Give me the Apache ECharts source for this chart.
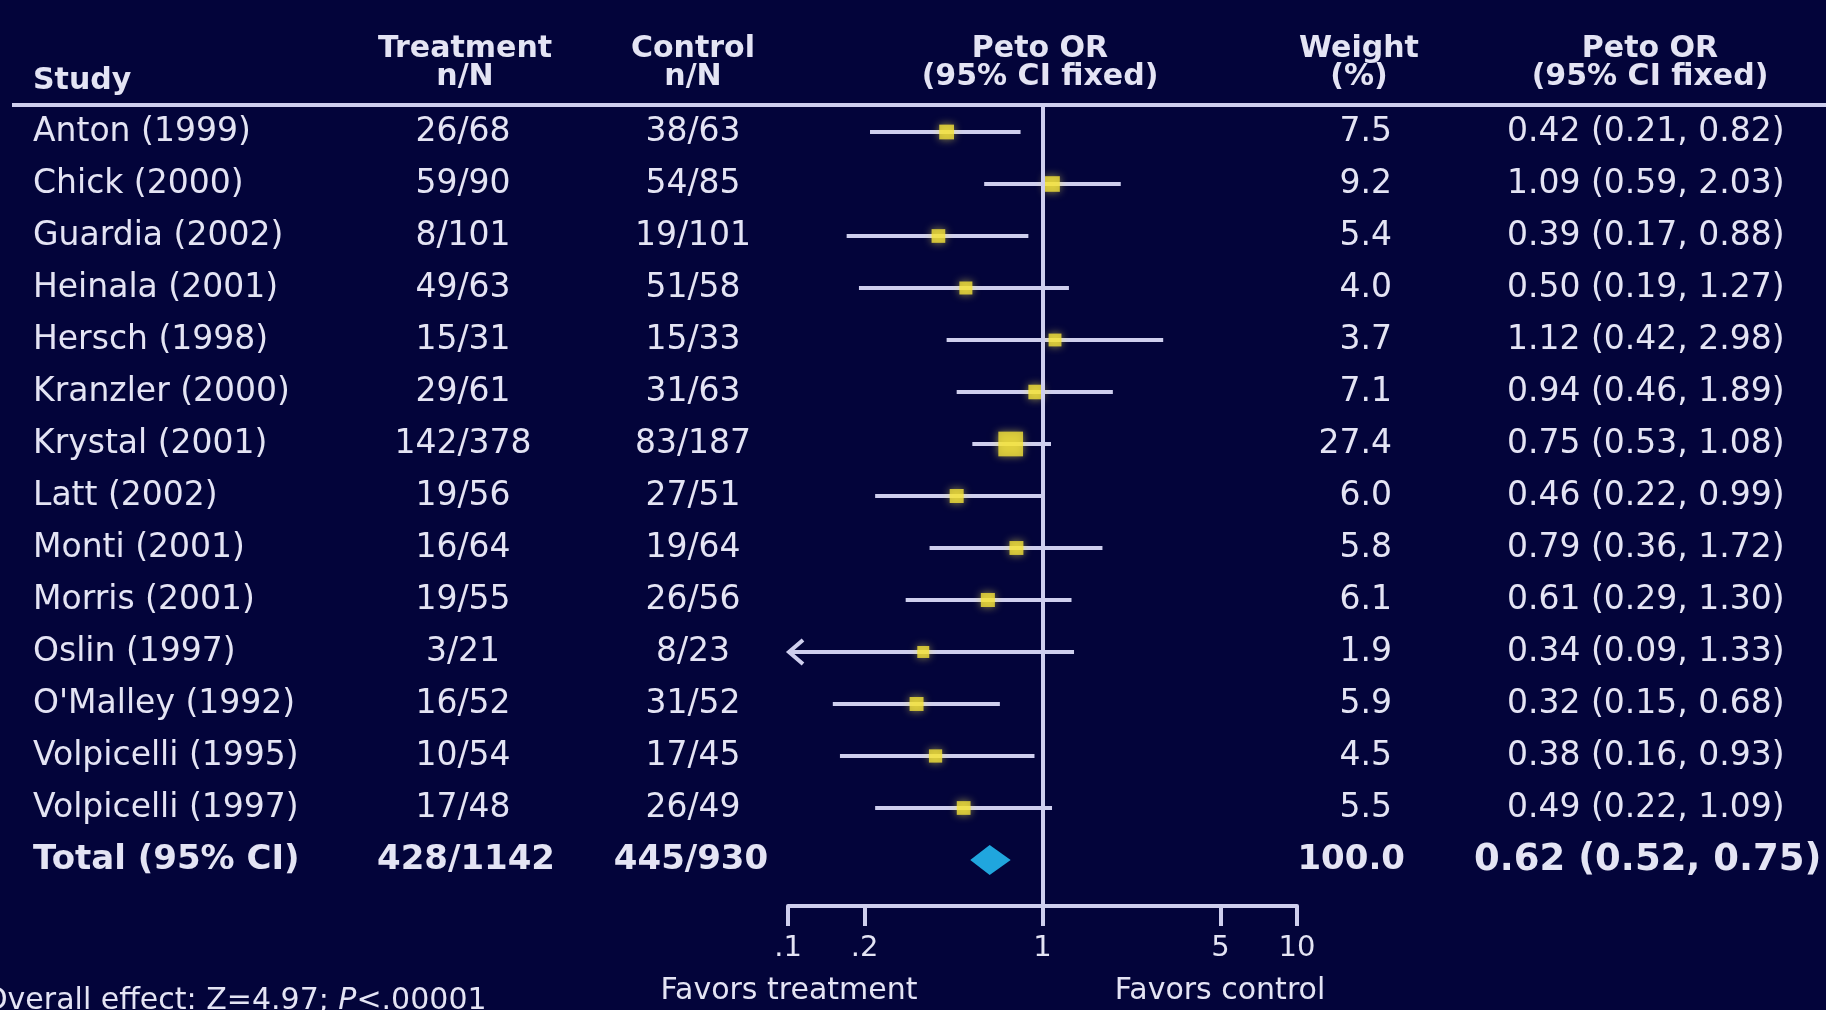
<!DOCTYPE html>
<html>
<head>
<meta charset="utf-8">
<title>Peto OR forest plot</title>
<script src="https://cdn.jsdelivr.net/npm/echarts@6/dist/echarts.min.js"></script>
<style>
html, body { margin: 0; padding: 0; background: #03043a; }
#main { width: 1826px; height: 1010px; }
</style>
</head>
<body>
<div id="main"></div>
<script>
// study rows
var studies = ['Anton (1999)', 'Chick (2000)', 'Guardia (2002)', 'Heinala (2001)', 'Hersch (1998)',
    'Kranzler (2000)', 'Krystal (2001)', 'Latt (2002)', 'Monti (2001)', 'Morris (2001)',
    'Oslin (1997)', "O'Malley (1992)", 'Volpicelli (1995)', 'Volpicelli (1997)'];
var treatment = ['26/68', '59/90', '8/101', '49/63', '15/31', '29/61', '142/378', '19/56',
    '16/64', '19/55', '3/21', '16/52', '10/54', '17/48'];
var control = ['38/63', '54/85', '19/101', '51/58', '15/33', '31/63', '83/187', '27/51',
    '19/64', '26/56', '8/23', '31/52', '17/45', '26/49'];
var weight = [7.5, 9.2, 5.4, 4.0, 3.7, 7.1, 27.4, 6.0, 5.8, 6.1, 1.9, 5.9, 4.5, 5.5];
var orValue = [0.42, 1.09, 0.39, 0.50, 1.12, 0.94, 0.75, 0.46, 0.79, 0.61, 0.34, 0.32, 0.38, 0.49];
var orLow = [0.21, 0.59, 0.17, 0.19, 0.42, 0.46, 0.53, 0.22, 0.36, 0.29, 0.09, 0.15, 0.16, 0.22];
var orHigh = [0.82, 2.03, 0.88, 1.27, 2.98, 1.89, 1.08, 0.99, 1.72, 1.30, 1.33, 0.68, 0.93, 1.09];

// pooled row
var totalLabel = 'Total (95% CI)';
var totalTreatment = '428/1142';
var totalControl = '445/930';
var totalWeight = 100.0;
var totalOr = 0.62;
var totalLow = 0.52;
var totalHigh = 0.75;

// axis ticks
var tickLabels = [0.1, 0.2, 1, 5, 10];

var FONT = '"DejaVu Sans", Verdana, sans-serif';
var TEXT = '#e4e4f4';
var LINE = '#cfcfee';
var AXIS_MIN = -1, AXIS_MAX = 1;
var totalRow = studies.length;

function fmtOr(o, l, h) {
    return o.toFixed(2) + ' (' + l.toFixed(2) + ', ' + h.toFixed(2) + ')';
}

var chartDom = document.getElementById('main');
var myChart = echarts.init(chartDom);
var option;

var ciData = studies.map(function (s, i) { return [orValue[i], i, orLow[i], orHigh[i]]; });
var pointData = studies.map(function (s, i) { return [Math.log10(orValue[i]), i, weight[i]]; });
var tableRows = studies.map(function (s, i) { return [0, i]; });
tableRows.push([0, totalRow]);

option = {
    backgroundColor: '#03043a',
    animation: false,
    grid: {
        left: 788,
        right: 529,
        top: 106,
        bottom: 104,
        outerBoundsMode: 'none'
    },
    xAxis: {
        type: 'value',
        min: AXIS_MIN,
        max: AXIS_MAX,
        position: 'bottom',
        axisLine: { show: true, onZero: false, lineStyle: { color: LINE, width: 4 } },
        axisTick: {
            show: true,
            length: 20,
            customValues: tickLabels.map(Math.log10),
            lineStyle: { color: LINE, width: 4 }
        },
        axisLabel: {
            customValues: tickLabels.map(Math.log10),
            color: TEXT,
            fontFamily: FONT,
            fontSize: 29,
            margin: 28,
            formatter: function (v) {
                var n = Math.round(Math.pow(10, v) * 10) / 10;
                return n < 1 ? String(n).slice(1) : String(n);
            }
        },
        splitLine: { show: false }
    },
    yAxis: {
        type: 'value',
        min: -0.5,
        max: 14.885,
        inverse: true,
        show: false
    },
    graphic: [
        // column headers
        { type: 'text', x: 33, y: 81, style: { text: 'Study', font: 'bold 30px ' + FONT, fill: TEXT, align: 'left', verticalAlign: 'middle' } },
        { type: 'text', x: 465, y: 49, style: { text: 'Treatment', font: 'bold 30px ' + FONT, fill: TEXT, align: 'center', verticalAlign: 'middle' } },
        { type: 'text', x: 465, y: 77, style: { text: 'n/N', font: 'bold 30px ' + FONT, fill: TEXT, align: 'center', verticalAlign: 'middle' } },
        { type: 'text', x: 693, y: 49, style: { text: 'Control', font: 'bold 30px ' + FONT, fill: TEXT, align: 'center', verticalAlign: 'middle' } },
        { type: 'text', x: 693, y: 77, style: { text: 'n/N', font: 'bold 30px ' + FONT, fill: TEXT, align: 'center', verticalAlign: 'middle' } },
        { type: 'text', x: 1040, y: 49, style: { text: 'Peto OR', font: 'bold 30px ' + FONT, fill: TEXT, align: 'center', verticalAlign: 'middle' } },
        { type: 'text', x: 1040, y: 77, style: { text: '(95% CI fixed)', font: 'bold 30px ' + FONT, fill: TEXT, align: 'center', verticalAlign: 'middle' } },
        { type: 'text', x: 1359, y: 49, style: { text: 'Weight', font: 'bold 30px ' + FONT, fill: TEXT, align: 'center', verticalAlign: 'middle' } },
        { type: 'text', x: 1359, y: 77, style: { text: '(%)', font: 'bold 30px ' + FONT, fill: TEXT, align: 'center', verticalAlign: 'middle' } },
        { type: 'text', x: 1650, y: 49, style: { text: 'Peto OR', font: 'bold 30px ' + FONT, fill: TEXT, align: 'center', verticalAlign: 'middle' } },
        { type: 'text', x: 1650, y: 77, style: { text: '(95% CI fixed)', font: 'bold 30px ' + FONT, fill: TEXT, align: 'center', verticalAlign: 'middle' } },
        // rule under headers
        { type: 'line', shape: { x1: 12, y1: 105, x2: 1826, y2: 105 }, style: { stroke: LINE, lineWidth: 4 } },
        // footer
        { type: 'text', x: 789, y: 991, style: { text: 'Favors treatment', font: '30px ' + FONT, fill: TEXT, align: 'center', verticalAlign: 'middle' } },
        { type: 'text', x: 1220, y: 991, style: { text: 'Favors control', font: '30px ' + FONT, fill: TEXT, align: 'center', verticalAlign: 'middle' } },
        {
            type: 'text', x: -16, y: 1001,
            style: {
                text: '{a|Overall effect: Z=4.97; }{b|P}{a|<.00001}',
                fill: TEXT,
                align: 'left',
                verticalAlign: 'middle',
                rich: {
                    a: { font: '30px ' + FONT, fill: TEXT },
                    b: { font: 'italic 30px ' + FONT, fill: TEXT }
                }
            }
        }
    ],
    series: [
        {
            // confidence intervals
            type: 'custom',
            z: 2,
            clip: false,
            data: ciData,
            renderItem: function (params, api) {
                var row = api.value(1);
                var lo = Math.log10(api.value(2));
                var hi = Math.log10(api.value(3));
                var cut = lo < AXIS_MIN;
                var p1 = api.coord([Math.max(lo, AXIS_MIN), row]);
                var p2 = api.coord([Math.min(hi, AXIS_MAX), row]);
                var kids = [{
                    type: 'line',
                    shape: { x1: p1[0], y1: p1[1], x2: p2[0], y2: p2[1] },
                    style: { stroke: LINE, lineWidth: 4 }
                }];
                if (cut) {
                    kids.push({
                        type: 'polyline',
                        shape: { points: [[p1[0] + 15, p1[1] - 12], [p1[0] + 1, p1[1]], [p1[0] + 15, p1[1] + 12]] },
                        style: { stroke: LINE, lineWidth: 4, fill: null }
                    });
                }
                return { type: 'group', children: kids };
            }
        },
        {
            // study estimates
            type: 'scatter',
            z: 4,
            data: pointData,
            symbol: 'rect',
            symbolSize: function (val) { return 11 + val[2] * 0.5; },
            itemStyle: {
                color: '#f4e23a',
                shadowBlur: 8,
                shadowColor: 'rgba(250, 235, 80, 0.7)'
            },
            markLine: {
                silent: true,
                symbol: ['none', 'none'],
                label: { show: false },
                lineStyle: { color: LINE, width: 4, type: 'solid' },
                data: [{ xAxis: 0 }]
            }
        },
        {
            // pooled diamond
            type: 'custom',
            z: 4,
            data: [[totalOr, totalRow, totalLow, totalHigh]],
            renderItem: function (params, api) {
                var row = api.value(1);
                var c = api.coord([Math.log10(api.value(0)), row]);
                var l = api.coord([Math.log10(api.value(2)), row]);
                var r = api.coord([Math.log10(api.value(3)), row]);
                return {
                    type: 'polygon',
                    shape: { points: [[l[0], l[1]], [c[0], c[1] - 15], [r[0], r[1]], [c[0], c[1] + 15]] },
                    style: { fill: '#20a6de' }
                };
            }
        },
        {
            // table text
            type: 'custom',
            z: 5,
            clip: false,
            silent: true,
            data: tableRows,
            renderItem: function (params, api) {
                var row = api.value(1);
                var y = api.coord([0, row])[1];
                var isTotal = row === totalRow;
                var font = isTotal ? 'bold 34px ' + FONT : '33px ' + FONT;
                var cells = isTotal
                    ? [[33, 'left', totalLabel, font], [466, 'center', totalTreatment, font], [691, 'center', totalControl, font],
                       [1405, 'right', totalWeight.toFixed(1), font],
                       [1474, 'left', fmtOr(totalOr, totalLow, totalHigh), 'bold 37px ' + FONT]]
                    : [[33, 'left', studies[row], font], [463, 'center', treatment[row], font], [693, 'center', control[row], font],
                       [1392, 'right', weight[row].toFixed(1), font],
                       [1507, 'left', fmtOr(orValue[row], orLow[row], orHigh[row]), font]];
                return {
                    type: 'group',
                    children: cells.map(function (c) {
                        return {
                            type: 'text',
                            style: { x: c[0], y: y, text: c[2], font: c[3], fill: TEXT, align: c[1], verticalAlign: 'middle' }
                        };
                    })
                };
            }
        }
    ]
};

option && myChart.setOption(option);
</script>
</body>
</html>
